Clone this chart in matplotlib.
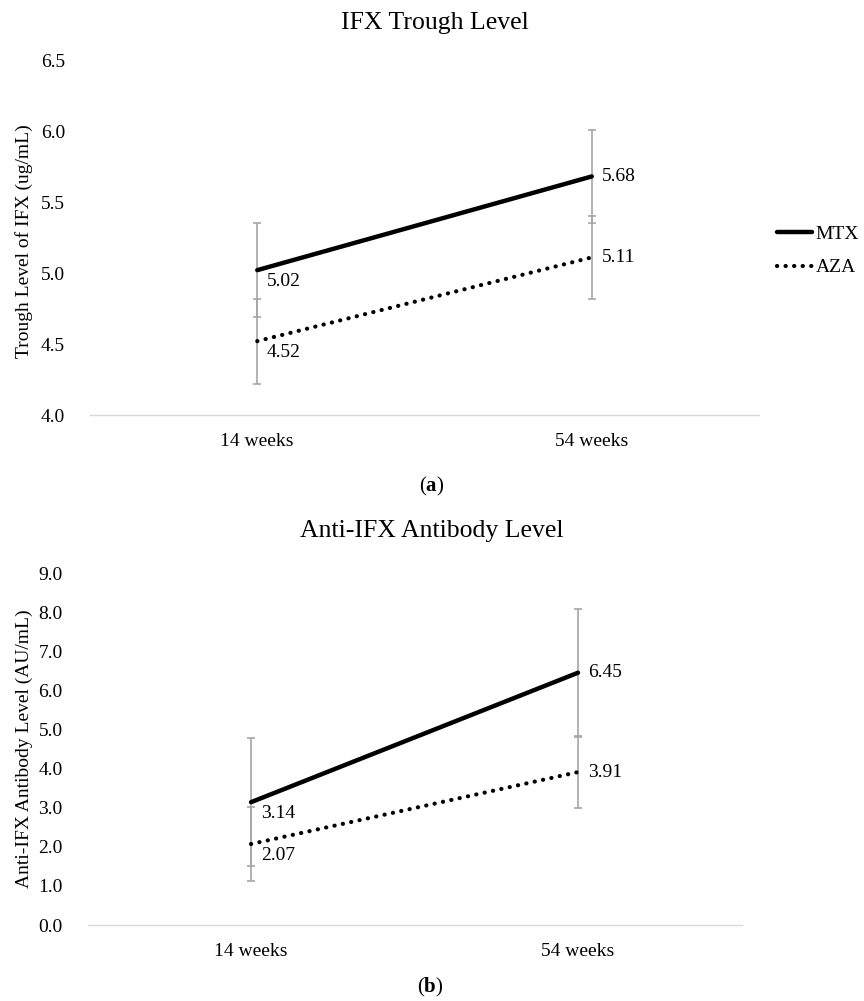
import matplotlib
matplotlib.use('Agg')
import matplotlib.pyplot as plt

plt.rcParams['font.family'] = ['Liberation Serif', 'DejaVu Serif']
plt.rcParams['mathtext.fontset'] = 'custom'
plt.rcParams['mathtext.rm'] = 'Liberation Serif'
plt.rcParams['mathtext.bf'] = 'Liberation Serif:bold'

weeks = ['14 weeks', '54 weeks']

# (a) trough level
mtx_trough = [5.02, 5.68]
aza_trough = [4.52, 5.11]
mtx_trough_err = [0.33, 0.33]
aza_trough_err = [0.30, 0.29]

# (b) antibody level
mtx_ab = [3.14, 6.45]
aza_ab = [2.07, 3.91]
mtx_ab_err = [1.64, 1.64]
aza_ab_err = [0.94, 0.92]

W, H = 864, 1001
FS = 14
fig = plt.figure(figsize=(W / 100, H / 100), dpi=100)


def axes_px(l, t, r, b):
    return fig.add_axes([l / W, 1 - b / H, (r - l) / W, (b - t) / H])


def draw(ax, mtx, aza, mtx_err, aza_err, ylim, yticks, ylabel):
    x = list(range(len(weeks)))
    err_kw = dict(fmt='none', ecolor='#a6a6a6', elinewidth=1.2, capsize=3, capthick=1.2, zorder=1)
    ax.errorbar(x, mtx, yerr=mtx_err, **err_kw)
    ax.errorbar(x, aza, yerr=aza_err, **err_kw)
    l1, = ax.plot(x, mtx, color='black', lw=3.2, solid_capstyle='round', label='MTX', zorder=3)
    l2, = ax.plot(x, aza, color='black', lw=3, linestyle=(0, (0.05, 2.0)),
                  dash_capstyle='round', label='AZA', zorder=3)
    for series in (mtx, aza):
        for i, v in enumerate(series):
            dy = -8 if i == 0 else 0
            ax.annotate('%.2f' % v, (i, v), xytext=(7, dy), textcoords='offset points',
                        ha='left', va='center', fontsize=FS)
    ax.set_xlim(-0.5, len(weeks) - 0.5)
    ax.set_ylim(*ylim)
    ax.set_yticks(yticks)
    ax.set_yticklabels(['%.1f' % t for t in yticks])
    ax.set_xticks(x)
    ax.set_xticklabels(weeks)
    ax.tick_params(length=0, labelsize=FS)
    ax.tick_params(axis='y', pad=18)
    ax.tick_params(axis='x', pad=13)
    for s in ('top', 'right', 'left'):
        ax.spines[s].set_visible(False)
    ax.spines['bottom'].set_color('#d9d9d9')
    ax.spines['bottom'].set_linewidth(1)
    ax.set_ylabel(ylabel, fontsize=FS)
    return l1, l2


ax1 = axes_px(90, 60, 759, 415)
h = draw(ax1, mtx_trough, aza_trough, mtx_trough_err, aza_trough_err,
         (4.0, 6.5), [4.0, 4.5, 5.0, 5.5, 6.0, 6.5], 'Trough Level of IFX (ug/mL)')
ax1.yaxis.set_label_coords((33 - 90) / (759 - 90), 0.49)

ax2 = axes_px(87.5, 573, 741.5, 925)
draw(ax2, mtx_ab, aza_ab, mtx_ab_err, aza_ab_err,
     (0, 9), [0, 1, 2, 3, 4, 5, 6, 7, 8, 9], 'Anti-IFX Antibody Level (AU/mL)')
ax2.yaxis.set_label_coords((33 - 87.5) / (741.5 - 87.5), 0.5)

fig.text(435 / W, 1 - 23 / H, 'IFX Trough Level', ha='center', va='center', fontsize=18.5)
fig.text(432 / W, 1 - 531 / H, 'Anti-IFX Antibody Level', ha='center', va='center', fontsize=18.5)
fig.text(432 / W, 1 - 486 / H, r'($\mathbf{a}$)', ha='center', va='center', fontsize=15)
fig.text(430 / W, 1 - 987 / H, r'($\mathbf{b}$)', ha='center', va='center', fontsize=15)

fig.legend(h, ['MTX', 'AZA'], loc='center left', bbox_to_anchor=(777 / W, 1 - 251 / H),
           frameon=False, fontsize=FS, handlelength=1.8, handletextpad=0.2,
           labelspacing=0.8, borderaxespad=0, borderpad=0)

fig.savefig('out.png', dpi=100)
